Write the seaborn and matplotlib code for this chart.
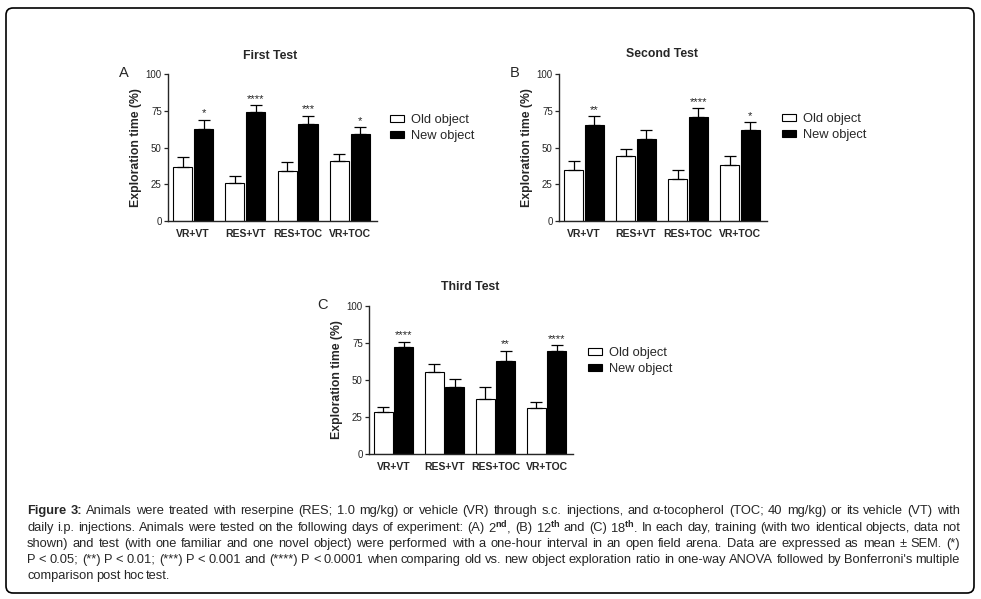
import numpy as np
import pandas as pd
import matplotlib.pyplot as plt
import seaborn as sns
from matplotlib.patches import Patch, FancyBboxPatch

# =====================================
# Data
# =====================================

groups = ["VR+VT", "RES+VT", "RES+TOC", "VR+TOC"]
objects = ["Old object", "New object"]

first_old = [37.0, 25.7, 34.1, 40.5]
first_new = [62.7, 73.9, 65.9, 59.3]
first_old_err = [6.4, 5.2, 5.7, 5.0]
first_new_err = [6.2, 5.0, 5.7, 4.6]
first_stars = ["*", "****", "***", "*"]

second_old = [34.8, 43.9, 28.6, 38.2]
second_new = [65.5, 56.1, 70.9, 61.8]
second_old_err = [5.7, 5.2, 6.2, 6.1]
second_new_err = [5.6, 5.5, 5.7, 5.7]
second_stars = ["**", "", "****", "*"]

third_old = [28.4, 55.6, 37.4, 31.3]
third_new = [72.5, 45.0, 63.1, 69.6]
third_old_err = [3.6, 5.2, 7.6, 3.8]
third_new_err = [3.4, 5.5, 6.7, 3.8]
third_stars = ["****", "", "**", "****"]

y_ticks = [0, 25, 50, 75, 100]

caption_lines = [
    "Figure 3: Animals were treated with reserpine (RES; 1.0 mg/kg) or vehicle (VR) through s.c. injections, and α-tocopherol (TOC; 40 mg/kg) or its vehicle (VT) with",
    r"daily i.p. injections. Animals were tested on the following days of experiment: (A) 2$^{\mathbf{nd}}$, (B) 12$^{\mathbf{th}}$ and (C) 18$^{\mathbf{th}}$. In each day, training (with two identical objects, data not",
    "shown) and test (with one familiar and one novel object) were performed with a one-hour interval in an open field arena. Data are expressed as mean ± SEM. (*)",
    "P < 0.05; (**) P < 0.01; (***) P < 0.001 and (****) P < 0.0001 when comparing old vs. new object exploration ratio in one-way ANOVA followed by Bonferroni's multiple",
    "comparison post hoc test.",
]
caption_bold_words = 2   # "Figure 3:"

# =====================================
# Style
# =====================================

sns.set_style("ticks")
plt.rcParams["font.family"] = ["Liberation Sans", "DejaVu Sans"]
plt.rcParams["mathtext.fontset"] = "custom"
plt.rcParams["mathtext.rm"] = "Liberation Sans"
plt.rcParams["mathtext.bf"] = "Liberation Sans:bold"
plt.rcParams["axes.linewidth"] = 1.0

W, H = 981, 599
fig = plt.figure(figsize=(W / 100, H / 100), dpi=100)
fig.patch.set_facecolor("white")


def px_axes(x0, x1, y0, y1):
    return fig.add_axes([x0 / W, 1 - y1 / H, (x1 - x0) / W, (y1 - y0) / H])


def panel(ax, old, new, old_err, new_err, stars, legend_pos):
    df = pd.DataFrame({
        "group": groups * 2,
        "object": [objects[0]] * 4 + [objects[1]] * 4,
        "value": old + new,
    })
    sns.barplot(data=df, x="group", y="value", hue="object",
                order=groups, hue_order=objects,
                palette={"Old object": "white", "New object": "black"},
                edgecolor="black", linewidth=0.8, errorbar=None,
                gap=0.08, legend=False, ax=ax)

    errs = [old_err, new_err]
    for k, cont in enumerate(ax.containers[:2]):
        for i, bar in enumerate(cont.patches):
            xc = bar.get_x() + bar.get_width() / 2
            top = bar.get_height()
            ax.errorbar(xc, top, yerr=[[0], [errs[k][i]]], fmt="none",
                        ecolor="black", elinewidth=0.9, capsize=4,
                        capthick=0.9, zorder=1)
            if k == 1 and stars[i]:
                ax.text(xc, top + errs[k][i] + 0.8, stars[i], ha="center",
                        va="bottom", fontsize=8.2)

    ax.set_ylim(0, 100)
    ax.set_xlim(-0.48, 3.52)
    ax.set_yticks(y_ticks)
    ax.set_yticklabels([str(t) for t in y_ticks], fontsize=7)
    ax.tick_params(axis="y", length=3, width=0.9, pad=1.5)
    ax.tick_params(axis="x", length=0, pad=6)
    for lab in ax.get_xticklabels():
        lab.set_fontweight("bold")
        lab.set_fontsize(7.5)
    ax.set_xlabel("")
    ax.set_ylabel("Exploration time (%)", fontsize=8.8, fontweight="bold",
                  labelpad=2.5)
    sns.despine(ax=ax)

    handles = [Patch(facecolor="white", edgecolor="black", linewidth=0.8),
               Patch(facecolor="black", edgecolor="black", linewidth=0.8)]
    ax.legend(handles, objects, loc="center left", bbox_to_anchor=legend_pos,
              frameon=False, fontsize=9.3, handlelength=1.05,
              handleheight=0.5, handletextpad=0.55, labelspacing=0.3,
              borderpad=0, borderaxespad=0)


# =====================================
# Panels
# =====================================

ax_a = px_axes(168, 377, 74, 221)
panel(ax_a, first_old, first_new, first_old_err, first_new_err,
      first_stars, (1.062, 0.633))

ax_b = px_axes(559, 767, 74, 221)
panel(ax_b, second_old, second_new, second_old_err, second_new_err,
      second_stars, (1.072, 0.64))

ax_c = px_axes(369, 573, 306, 454)
panel(ax_c, third_old, third_new, third_old_err, third_new_err,
      third_stars, (1.074, 0.628))

title_kw = dict(ha="center", va="center", fontsize=8.8, fontweight="bold")
fig.text(270 / W, 1 - 56 / H, "First Test", **title_kw)
fig.text(662 / W, 1 - 54 / H, "Second Test", **title_kw)
fig.text(470 / W, 1 - 287 / H, "Third Test", **title_kw)

fig.text(124 / W, 1 - 73 / H, "A", ha="center", va="center", fontsize=10.5)
fig.text(515 / W, 1 - 73 / H, "B", ha="center", va="center", fontsize=10.5)
fig.text(323 / W, 1 - 305 / H, "C", ha="center", va="center", fontsize=10.5)

# =====================================
# Caption (justified lines)
# =====================================

renderer = fig.canvas.get_renderer()
x_left, x_right = 27, 960
line_y = [511, 528, 544, 560, 576]

for n, line in enumerate(caption_lines):
    words = line.split(" ")
    texts = []
    for j, w in enumerate(words):
        bold = n == 0 and j < caption_bold_words
        texts.append(fig.text(0, 1 - line_y[n] / H, w, ha="left",
                              va="center", fontsize=9.3,
                              fontweight="bold" if bold else "normal"))
    widths = [t.get_window_extent(renderer).width for t in texts]
    if n < len(caption_lines) - 1:
        gap = max(1.5, (x_right - x_left - sum(widths)) / (len(words) - 1))
    else:
        gap = 2.6
    x = x_left
    for t, w in zip(texts, widths):
        t.set_x(x / W)
        x += w + gap

# border
fig.add_artist(FancyBboxPatch((6, 6), 968, 585,
                              boxstyle="round,pad=0,rounding_size=7",
                              transform=None, fill=False,
                              edgecolor="black", linewidth=1.2))

fig.savefig("out.png", dpi=100)
